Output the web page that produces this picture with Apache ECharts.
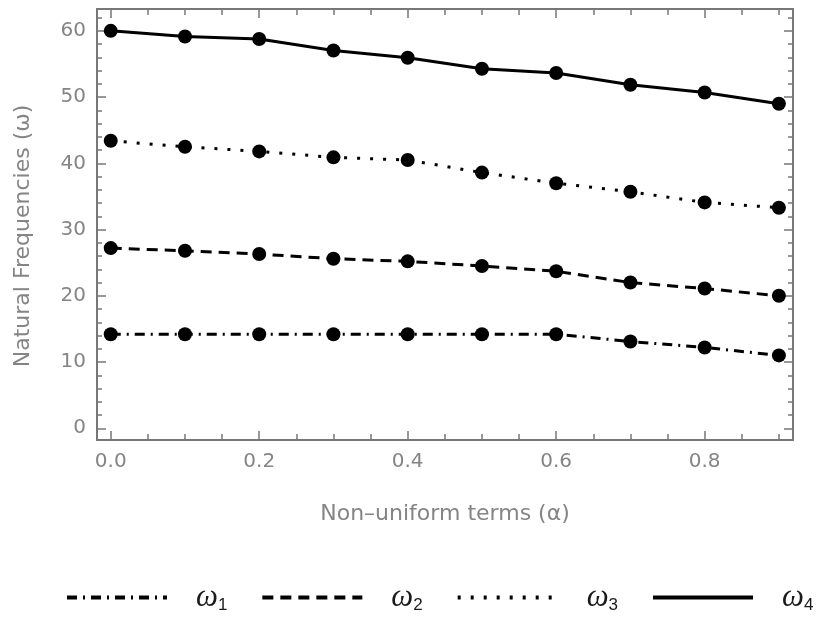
<!DOCTYPE html>
<html><head><meta charset="utf-8">
<script src="https://cdn.jsdelivr.net/npm/echarts@6/dist/echarts.min.js"></script>
<style>html,body{margin:0;padding:0;background:#fff}#c{width:818px;height:619px}</style>
</head><body><div id="c"></div>
<script>
const alpha = [0.0, 0.1, 0.2, 0.3, 0.4, 0.5, 0.6, 0.7, 0.8, 0.9];
const omega1 = [14.2, 14.2, 14.2, 14.2, 14.2, 14.2, 14.2, 13.1, 12.2, 11.0];
const omega2 = [27.2, 26.8, 26.3, 25.6, 25.2, 24.5, 23.7, 22.0, 21.1, 20.0];
const omega3 = [43.4, 42.5, 41.8, 40.9, 40.5, 38.6, 37.0, 35.7, 34.1, 33.3];
const omega4 = [60.0, 59.15, 58.76, 57.04, 55.94, 54.28, 53.63, 51.87, 50.7, 49.0];
const seriesNames = ['ω1', 'ω2', 'ω3', 'ω4'];
const xMajorTicks = [0.0, 0.2, 0.4, 0.6, 0.8];
const xMinorTicks = [0.0, 0.05, 0.1, 0.15, 0.2, 0.25, 0.3, 0.35, 0.4, 0.45, 0.5, 0.55, 0.6, 0.65, 0.7, 0.75, 0.8, 0.85, 0.9];
const yMajorTicks = [0, 10, 20, 30, 40, 50, 60];
const yMinorTicks = [0, 2, 4, 6, 8, 10, 12, 14, 16, 18, 20, 22, 24, 26, 28, 30, 32, 34, 36, 38, 40, 42, 44, 46, 48, 50, 52, 54, 56, 58, 60, 62];
const xLabel = 'Non–uniform terms (α)';
const yLabel = 'Natural Frequencies (ω)';

const X_MIN = -0.0185, X_MAX = 0.919, Y_MIN = -1.77, Y_MAX = 63.3;
const FRAME = '#777777';
const LABEL = '#858585';

function xAxisDef(pos, ticks, len, withLabels, withLine) {
  return {
    type: 'value', position: pos, min: X_MIN, max: X_MAX,
    axisLine: { show: withLine, onZero: false, lineStyle: { color: FRAME, width: 2 } },
    axisTick: { show: true, inside: true, length: len, customValues: ticks, lineStyle: { color: FRAME, width: 1.5 } },
    axisLabel: withLabels ? { show: true, customValues: xMajorTicks, formatter: v => Number(v).toFixed(1), color: LABEL, fontSize: 20, fontFamily: 'DejaVu Sans', margin: 12 } : { show: false },
    splitLine: { show: false },
    name: withLabels ? xLabel : '', nameLocation: 'middle', nameGap: 63,
    nameTextStyle: { color: LABEL, fontSize: 22, fontFamily: 'DejaVu Sans' }
  };
}
function yAxisDef(pos, ticks, len, withLabels, withLine) {
  return {
    type: 'value', position: pos, min: Y_MIN, max: Y_MAX,
    axisLine: { show: withLine, onZero: false, lineStyle: { color: FRAME, width: 2 } },
    axisTick: { show: true, inside: true, length: len, customValues: ticks, lineStyle: { color: FRAME, width: 1.5 } },
    axisLabel: withLabels ? { show: true, customValues: yMajorTicks, color: LABEL, fontSize: 20, fontFamily: 'DejaVu Sans', margin: 11 } : { show: false },
    splitLine: { show: false },
    name: withLabels ? yLabel : '', nameLocation: 'middle', nameGap: 63, nameRotate: 90,
    nameTextStyle: { color: LABEL, fontSize: 22, fontFamily: 'DejaVu Sans', padding: [0, 23, 0, 0] }
  };
}

const styles = [
  { type: [10, 6, 2, 6] },
  { type: [11, 7] },
  { type: [3, 10] },
  { type: 'solid' }
];
const datasets = [omega1, omega2, omega3, omega4];

const chart = echarts.init(document.getElementById('c'), null, { renderer: 'canvas' });
chart.setOption({
  animation: false,
  backgroundColor: '#ffffff',
  grid: { left: 97, right: 25, top: 9, bottom: 179, containLabel: false },
  xAxis: [
    xAxisDef('bottom', xMinorTicks, 6, true, true),
    xAxisDef('bottom', xMajorTicks, 9, false, false),
    xAxisDef('top', xMinorTicks, 6, false, true),
    xAxisDef('top', xMajorTicks, 9, false, false)
  ],
  yAxis: [
    yAxisDef('left', yMinorTicks, 5, true, true),
    yAxisDef('left', yMajorTicks, 9, false, false),
    yAxisDef('right', yMinorTicks, 5, false, true),
    yAxisDef('right', yMajorTicks, 9, false, false)
  ],
  legend: {
    left: 65, top: 582, width: 790, orient: 'horizontal', padding: 0,
    itemWidth: 100, itemHeight: 14, itemGap: 33,
    itemStyle: { opacity: 0 },
    lineStyle: { width: 4 },
    data: seriesNames,
    formatter: n => '{w|ω}{s|' + n.slice(1) + '}',
    textStyle: {
      padding: [0, 0, 0, 24],
      rich: {
        w: { fontFamily: 'Liberation Serif', fontStyle: 'italic', fontSize: 31, color: '#1a1a1a', lineHeight: 32 },
        s: { fontFamily: 'Liberation Sans', fontSize: 17, color: '#1a1a1a', verticalAlign: 'bottom', lineHeight: 20 }
      }
    }
  },
  series: datasets.map((d, i) => ({
    name: seriesNames[i], type: 'line', xAxisIndex: 0, yAxisIndex: 0,
    data: alpha.map((a, j) => [a, d[j]]),
    symbol: 'circle', symbolSize: 14,
    itemStyle: { color: '#000' },
    lineStyle: { color: '#000', width: 3, type: styles[i].type },
    z: 3
  }))
});
</script>
</body></html>
